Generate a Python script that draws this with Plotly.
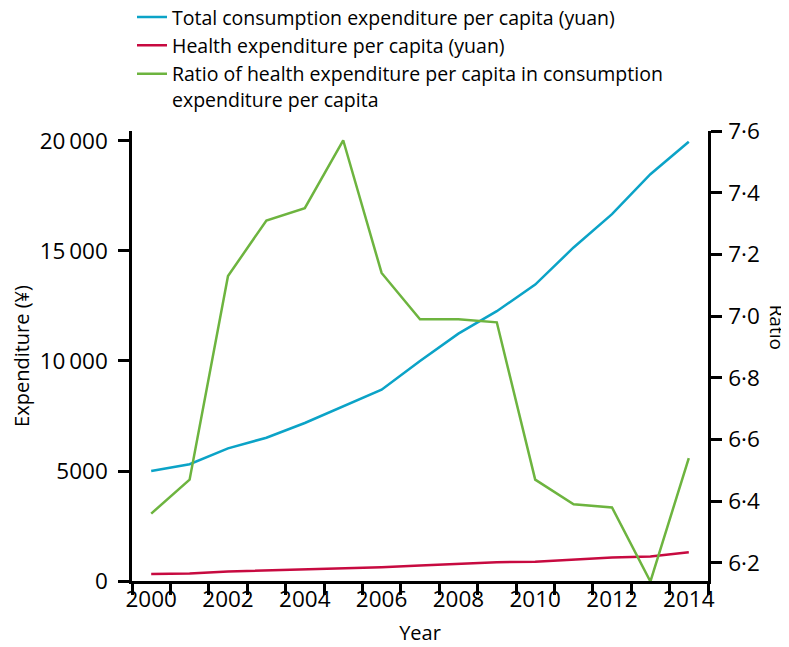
import plotly.graph_objects as go

years = list(range(2000, 2015))
total_consumption = [4998, 5309, 6030, 6511, 7182, 7943, 8697, 9998, 11243, 12265, 13472, 15161, 16674, 18488, 19968]
health_expenditure = [318, 343, 430, 476, 528, 601, 621, 699, 786, 856, 872, 969, 1064, 1118, 1306]
ratio = [6.36, 6.47, 7.13, 7.31, 7.35, 7.57, 7.14, 6.99, 6.99, 6.98, 6.47, 6.39, 6.38, 6.14, 6.54]

x_label_vals = [2000, 2002, 2004, 2006, 2008, 2010, 2012, 2014]
x_boundaries = [y - 0.5 for y in years] + [years[-1] + 0.5]
left_tick_vals = [0, 5000, 10000, 15000, 20000]
left_tick_text = ["0", "5000", "10\u2009000", "15\u2009000", "20\u2009000"]
right_tick_vals = [6.2, 6.4, 6.6, 6.8, 7.0, 7.2, 7.4, 7.6]
right_tick_text = ["6·2", "6·4", "6·6", "6·8", "7·0", "7·2", "7·4", "7·6"]

BLUE = "#0ba3c7"
RED = "#c70a40"
GREEN = "#6db43f"
FONT = "Open Sans"
TICKSIZE = 22.5

fig = go.Figure()
fig.add_trace(go.Scatter(x=years, y=total_consumption, mode="lines",
                         line=dict(color=BLUE, width=2.5), legendgroup="a",
                         name="Total consumption expenditure per capita (yuan)"))
fig.add_trace(go.Scatter(x=years, y=health_expenditure, mode="lines",
                         line=dict(color=RED, width=2.5), legendgroup="b",
                         name="Health expenditure per capita (yuan)"))
fig.add_trace(go.Scatter(x=years, y=ratio, mode="lines", yaxis="y2",
                         line=dict(color=GREEN, width=2.5), legendgroup="c",
                         name="Ratio of health expenditure per capita in consumption<br>expenditure per capita"))

axis_common = dict(showline=True, linecolor="black", linewidth=2.5, showgrid=False,
                   zeroline=False, ticks="outside", ticklen=11, tickwidth=2.5,
                   tickcolor="black", tickfont=dict(size=TICKSIZE, color="black", family=FONT))

fig.update_layout(
    width=789, height=647,
    margin=dict(l=124, r=89, t=123, b=74, autoexpand=False),
    plot_bgcolor="white", paper_bgcolor="white",
    font=dict(family=FONT, size=19, color="black"),
    showlegend=True,
    legend=dict(x=0.0, y=1.296, xanchor="left", yanchor="top", valign="top",
                font=dict(size=19.5, family=FONT, color="black"),
                bgcolor="rgba(0,0,0,0)", traceorder="grouped", tracegroupgap=0,
                itemwidth=30),
    xaxis=dict(range=[1999.5, 2014.5], tickmode="array", tickvals=x_label_vals,
               showline=True, linecolor="black", linewidth=2.5, showgrid=False,
               zeroline=False, ticks="", ticklabelstandoff=-4,
               tickfont=dict(size=TICKSIZE, color="black", family=FONT),
               minor=dict(tickmode="array", tickvals=x_boundaries, ticks="outside",
                          ticklen=11, tickwidth=2.5, tickcolor="black", showgrid=False),
               title=dict(text="Year", font=dict(size=20, family=FONT), standoff=14)),
    yaxis=dict(range=[0, 20454], tickmode="array", tickvals=left_tick_vals,
               ticktext=left_tick_text, ticklabelstandoff=6,
               title=dict(text="Expenditure (¥)", font=dict(size=20, family=FONT), standoff=27),
               **axis_common),
    yaxis2=dict(range=[6.1416, 7.6], tickmode="array", tickvals=right_tick_vals,
                ticktext=right_tick_text, overlaying="y", side="right", ticklabelstandoff=2,
                **axis_common),
    annotations=[dict(text="Ratio", xref="paper", yref="paper", x=1.12, y=0.565,
                      textangle=90, showarrow=False, xanchor="center", yanchor="middle",
                      font=dict(size=19, family=FONT, color="black"))],
)

fig.write_html("out.html")
